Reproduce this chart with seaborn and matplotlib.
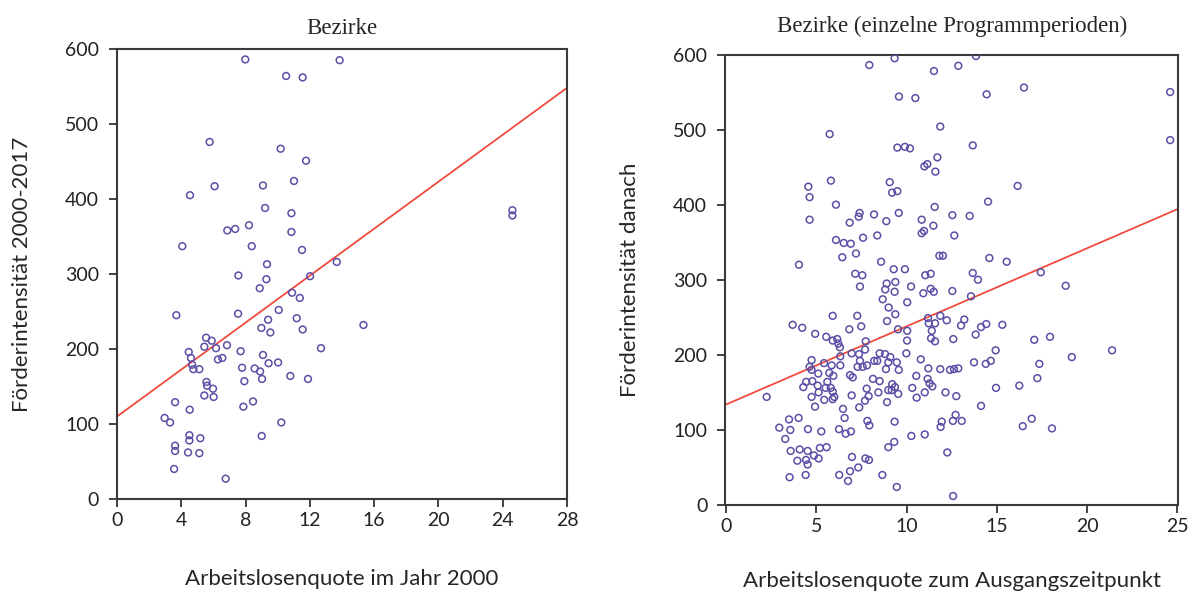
import numpy as np
import pandas as pd
import matplotlib.pyplot as plt
import seaborn as sns

# --- Bezirke: Arbeitslosenquote 2000 vs Förderintensität 2000-2017
left_x = [7.98, 13.85, 10.52, 11.55, 5.76, 10.18, 11.76, 6.07, 9.08, 11.01,
          4.54, 9.21, 10.85, 6.86, 7.35, 8.21, 10.85, 4.06, 8.38, 11.51,
          9.33, 13.67, 7.55, 9.29, 12.01, 8.88, 10.89, 11.37, 3.69, 7.53,
          10.06, 9.40, 11.18, 8.98, 9.54, 11.55, 15.33, 5.54, 5.89, 5.43,
          6.16, 6.84, 4.46, 7.69, 12.69, 4.60, 6.28, 6.55, 9.08, 4.67,
          4.75, 5.12, 7.78, 8.56, 8.90, 9.43, 10.02, 9.02, 10.78, 11.88,
          7.92, 5.56, 5.60, 5.97, 5.43, 6.01, 3.61, 8.46, 7.86, 4.52,
          2.96, 3.30, 10.22, 4.50, 4.50, 5.18, 9.00, 3.61, 3.61, 4.42,
          5.12, 3.55, 6.76, 24.6, 24.6]
left_y = [586, 585, 564, 562, 476, 467, 451, 417, 418, 424,
          405, 388, 381, 358, 360, 365, 356, 337, 337, 332,
          313, 316, 298, 293, 297, 281, 275, 268, 245, 247,
          252, 239, 241, 228, 222, 226, 232, 215, 211, 203,
          201, 205, 196, 197, 201, 188, 186, 188, 192, 179,
          173, 173, 175, 174, 170, 181, 182, 160, 164, 160,
          157, 156, 151, 147, 138, 136, 129, 130, 123, 119,
          108, 102, 102, 85, 78, 81, 84, 71, 64, 62,
          61, 40, 27, 385, 378]
left_fit = (110.0, 15.65)   # intercept, slope as drawn

# --- Bezirke, einzelne Programmperioden
right_x = [7.93, 9.33, 11.51, 9.57, 10.48, 11.86, 5.73, 9.48, 9.90, 10.18,
           11.70, 10.98, 11.14, 11.59, 4.55, 5.80, 9.06, 9.19, 9.48, 4.62,
           12.86, 13.84, 14.43, 16.50, 24.60, 24.60, 13.66, 16.15, 14.51,
           6.08, 4.62, 7.39, 7.34, 8.19, 8.87, 9.56, 11.55, 12.53, 6.84,
           10.83, 11.48, 10.83, 10.96, 6.08, 6.51, 6.90, 7.58, 8.37, 12.64,
           6.43, 7.19, 11.81, 12.01, 4.03, 8.58, 9.28, 9.90, 7.15, 7.54,
           11.03, 11.33, 7.41, 8.89, 8.81, 9.37, 9.33, 10.24, 10.92, 11.33,
           11.50, 12.53, 8.67, 10.03, 9.00, 9.37, 5.90, 7.26, 8.91, 11.18,
           11.86, 12.22, 11.22, 11.57, 3.68, 4.21, 6.82, 7.48, 9.52, 10.03,
           11.39, 4.93, 5.54, 5.90, 6.15, 6.21, 6.30, 7.73, 10.02, 11.35,
           11.57, 12.58, 7.69, 8.50, 8.80, 9.98, 6.95, 7.36,
           4.73, 4.62, 4.73, 5.42, 5.84, 6.32, 6.32, 7.41, 7.28, 7.56,
           7.80, 8.20, 8.37, 9.09, 8.98, 9.45, 10.78, 8.85, 9.56, 11.20,
           11.86, 12.40, 12.62, 12.86, 5.10, 5.71, 5.93, 6.86, 7.01, 10.53,
           11.16, 11.27, 11.42, 4.43, 4.77, 5.60, 4.27, 5.07, 5.12, 5.51,
           5.79, 5.90, 5.99, 5.90, 8.13, 8.50, 7.78, 9.20, 9.35, 8.98,
           9.17, 9.53, 10.31, 11.00, 12.15, 4.73, 5.43, 6.95, 7.89, 7.69,
           8.43, 8.91, 10.55, 2.24, 4.92, 6.47, 7.37, 3.48, 4.01, 6.56,
           7.82, 7.93, 9.33, 11.94, 11.88, 12.56, 2.94, 3.55, 4.53, 5.27,
           6.25, 6.62, 6.91, 10.26, 11.00, 3.27, 9.31, 8.98, 3.57, 4.07,
           4.51, 4.86, 5.19, 5.56, 5.12, 3.94, 4.42, 4.51, 6.97, 7.71,
           7.91, 12.25, 7.32, 6.86, 6.26, 8.65, 3.51, 4.40, 6.75, 9.45,
           12.57,
           13.49, 14.58, 15.54, 13.66, 13.95, 17.43, 18.81, 13.56, 13.19, 13.01,
           14.12, 14.41, 15.30, 13.82, 17.07, 17.94, 14.93, 21.38, 19.15,
           13.73, 14.38, 14.66, 17.35, 17.24, 16.24, 14.95, 12.75, 14.12, 12.71,
           13.05, 16.93, 16.43, 18.05]
right_y = [586, 595, 578, 544, 542, 504, 494, 476, 477, 475,
           463, 451, 454, 444, 424, 432, 430, 416, 418, 410,
           585, 598, 547, 556, 550, 486, 479, 425, 404,
           400, 380, 389, 384, 387, 378, 389, 397, 386, 376,
           380, 372, 362, 365, 353, 349, 348, 356, 359, 359,
           330, 335, 332, 332, 320, 324, 314, 314, 308, 306,
           306, 308, 291, 295, 287, 297, 284, 291, 282, 288,
           284, 285, 274, 270, 263, 254, 252, 252, 245, 249,
           252, 246, 242, 242, 240, 236, 234, 238, 234, 232,
           232, 228, 224, 219, 221, 215, 210, 218, 219, 222,
           218, 221, 207, 202, 201, 202, 202, 201,
           193, 184, 180, 189, 186, 186, 198, 192, 184, 184,
           186, 192, 192, 197, 190, 190, 194, 181, 180, 182,
           181, 180, 181, 182, 175, 176, 172, 173, 170, 172,
           168, 162, 158, 164, 165, 164, 157, 159, 150, 156,
           156, 151, 144, 141, 168, 165, 155, 161, 157, 153,
           153, 148, 156, 150, 150, 144, 140, 146, 145, 139,
           150, 137, 143, 144, 131, 128, 130, 114, 116, 116,
           112, 106, 111, 111, 104, 112, 103, 100, 101, 98,
           101, 95, 98, 92, 94, 88, 84, 77, 72, 74,
           72, 66, 76, 77, 62, 59, 60, 54, 64, 62,
           60, 70, 50, 45, 40, 40, 37, 40, 32, 24,
           12,
           385, 329, 324, 309, 300, 310, 292, 278, 247, 239,
           237, 241, 240, 227, 220, 224, 206, 206, 197,
           190, 188, 192, 188, 169, 159, 156, 145, 132, 120,
           112, 115, 105, 102]
right_fit = (134.0, 10.4)

left_df = pd.DataFrame({"quote": left_x, "intens": left_y})
right_df = pd.DataFrame({"quote": right_x, "intens": right_y})

sns.set_theme(style="ticks")
plt.rcParams['font.family'] = ['Lato', 'DejaVu Sans']

point_col = "#5a4fa6"
line_col = "#f04a3c"

fig = plt.figure(figsize=(11.92, 5.97), dpi=100)
ax1 = fig.add_axes([0.0982, 0.1642, 0.3775, 0.7538])
ax2 = fig.add_axes([0.6085, 0.1541, 0.3800, 0.7546])

panels = [
    (ax1, left_df, left_fit, (0, 28), range(0, 29, 4),
     "Bezirke", "Arbeitslosenquote im Jahr 2000", "Förderintensität 2000-2017", 11, 29),
    (ax2, right_df, right_fit, (-0.05, 25.05), range(0, 26, 5),
     "Bezirke (einzelne Programmperioden)", "Arbeitslosenquote zum Ausgangszeitpunkt",
     "Förderintensität danach", 16, 26),
]

for ax, df, fit, xlim, xt, title, xlab, ylab, tpad, xpad in panels:
    xs = np.array([max(xlim[0], 0), xlim[1]])
    line_df = pd.DataFrame({"quote": xs, "intens": fit[0] + fit[1] * xs})
    sns.lineplot(data=line_df, x="quote", y="intens", ax=ax, color=line_col, lw=1.3, zorder=2)
    sns.scatterplot(data=df, x="quote", y="intens", ax=ax, marker="o", s=24,
                    facecolor="none", edgecolor=point_col, linewidth=1.1, zorder=3)
    ax.set_xlim(*xlim)
    ax.set_ylim(0, 600)
    ax.set_xticks(list(xt))
    ax.set_yticks(range(0, 601, 100))
    ax.tick_params(length=6, width=1.2, labelsize=14, colors="#222222")
    ax.tick_params(axis="y", pad=7)
    for s in ax.spines.values():
        s.set_color("#3a3a3a")
        s.set_linewidth(1.5)
    ax.set_title(title, family="Liberation Serif", fontsize=16.5, pad=tpad)
    ax.set_xlabel(xlab, fontsize=16, labelpad=xpad)
    ax.set_ylabel(ylab, fontsize=16, labelpad=24)

fig.savefig("out.png", dpi=100)
